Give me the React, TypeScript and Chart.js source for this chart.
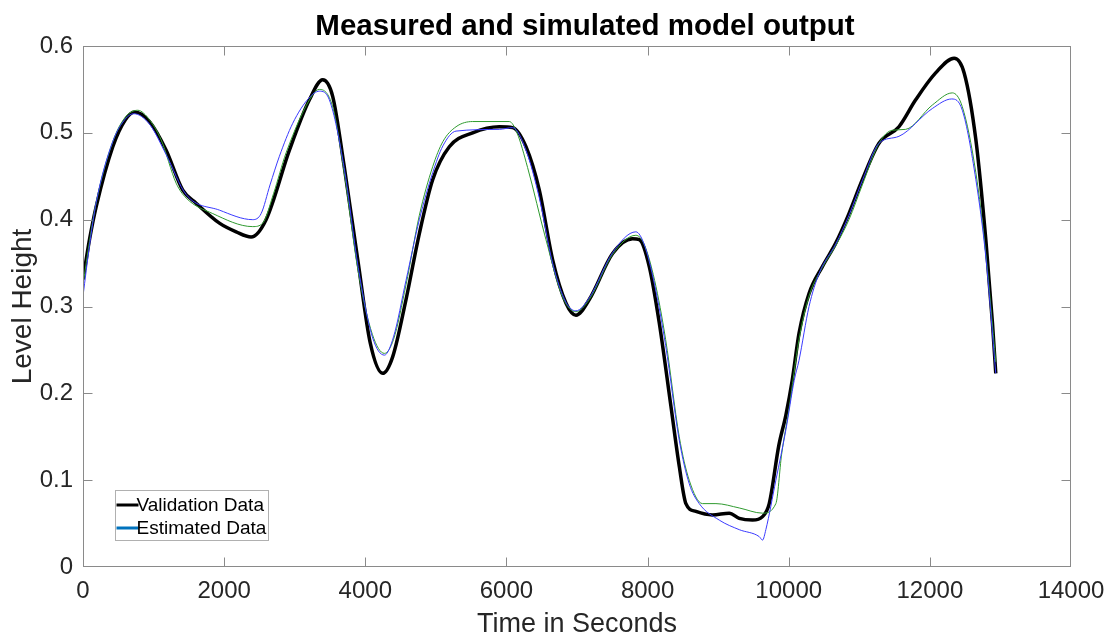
import React, { useEffect, useRef } from "react";
import { Chart, registerables } from "chart.js";

Chart.register(...registerables);

const titleText = "Measured and simulated model output";
const xAxisTitle = "Time in Seconds";
const yAxisTitle = "Level Height";
const legendLabels = ["Validation Data", "Estimated Data"];

const xTicks = [0, 2000, 4000, 6000, 8000, 10000, 12000, 14000];
const xTickLabels = ["0", "2000", "4000", "6000", "8000", "10000", "12000", "14000"];
const yTicks = [0, 0.1, 0.2, 0.3, 0.4, 0.5, 0.6];
const yTickLabels = ["0", "0.1", "0.2", "0.3", "0.4", "0.5", "0.6"];

const validationX = [0, 92, 187, 422, 600, 730, 942, 1178, 1414, 1603, 1933, 2170, 2382, 2594, 2925, 3208, 3397, 3538, 3700, 3900, 4070, 4247, 4388, 4577, 4766, 4955, 5191, 5521, 5899, 6088, 6277, 6466, 6654, 6843, 6985, 7174, 7504, 7787, 7883, 8024, 8166, 8331, 8449, 8543, 8685, 8921, 9157, 9299, 9487, 9629, 9724, 9860, 9960, 10050, 10146, 10288, 10477, 10666, 10854, 11043, 11279, 11562, 11799, 12082, 12344, 12486, 12652, 12793, 12887, 12934];
const validationY = [0.331, 0.377, 0.415, 0.484, 0.515, 0.524, 0.513, 0.48, 0.434, 0.419, 0.396, 0.386, 0.38, 0.4, 0.48, 0.538, 0.561, 0.542, 0.462, 0.35, 0.258, 0.223, 0.242, 0.308, 0.384, 0.446, 0.484, 0.5, 0.507, 0.506, 0.484, 0.434, 0.354, 0.304, 0.29, 0.308, 0.361, 0.378, 0.377, 0.346, 0.281, 0.185, 0.116, 0.073, 0.064, 0.06, 0.062, 0.056, 0.054, 0.058, 0.073, 0.14, 0.175, 0.215, 0.269, 0.315, 0.346, 0.373, 0.407, 0.446, 0.488, 0.507, 0.538, 0.569, 0.586, 0.569, 0.492, 0.377, 0.281, 0.223];

const modelAX = [0, 92, 187, 422, 600, 776, 942, 1107, 1320, 1461, 1839, 2405, 2547, 2700, 2878, 3255, 3350, 3538, 3700, 3900, 4100, 4271, 4400, 4577, 4766, 4955, 5100, 5286, 5521, 6041, 6150, 6300, 6560, 6800, 6985, 7174, 7504, 7834, 7950, 8100, 8256, 8449, 8590, 8779, 8969, 9299, 9629, 9818, 9900, 10000, 10146, 10288, 10477, 10666, 10854, 11043, 11279, 11468, 11657, 12035, 12318, 12460, 12652, 12793, 12934];
const modelAY = [0.325, 0.375, 0.42, 0.49, 0.518, 0.526, 0.515, 0.492, 0.442, 0.425, 0.407, 0.392, 0.396, 0.43, 0.477, 0.544, 0.55, 0.53, 0.455, 0.34, 0.268, 0.246, 0.262, 0.325, 0.405, 0.461, 0.49, 0.507, 0.513, 0.513, 0.5, 0.46, 0.377, 0.31, 0.294, 0.308, 0.36, 0.382, 0.372, 0.33, 0.262, 0.15, 0.1, 0.073, 0.073, 0.068, 0.062, 0.073, 0.13, 0.18, 0.262, 0.312, 0.345, 0.37, 0.4, 0.44, 0.488, 0.503, 0.504, 0.532, 0.546, 0.53, 0.454, 0.361, 0.236];

const modelBX = [0, 92, 187, 422, 600, 720, 942, 1178, 1461, 1933, 2405, 2524, 2650, 2783, 2972, 3200, 3350, 3491, 3700, 3900, 4100, 4271, 4400, 4577, 4766, 4955, 5100, 5286, 5899, 6088, 6277, 6466, 6654, 6843, 6985, 7174, 7504, 7834, 7950, 8100, 8256, 8449, 8590, 8732, 9016, 9299, 9582, 9629, 9676, 9818, 9960, 10078, 10146, 10288, 10430, 10666, 10854, 11043, 11279, 11562, 12035, 12310, 12460, 12652, 12793, 12934];
const modelBY = [0.312, 0.37, 0.42, 0.49, 0.516, 0.522, 0.51, 0.475, 0.429, 0.411, 0.4, 0.407, 0.44, 0.473, 0.511, 0.54, 0.548, 0.538, 0.46, 0.345, 0.265, 0.244, 0.265, 0.33, 0.4, 0.454, 0.485, 0.502, 0.504, 0.506, 0.48, 0.425, 0.35, 0.305, 0.295, 0.31, 0.362, 0.386, 0.372, 0.325, 0.255, 0.146, 0.096, 0.073, 0.054, 0.043, 0.035, 0.031, 0.043, 0.1, 0.158, 0.215, 0.238, 0.3, 0.338, 0.372, 0.405, 0.445, 0.488, 0.496, 0.528, 0.539, 0.526, 0.446, 0.357, 0.223];

const FONT = "'Liberation Sans', Arial, Helvetica, sans-serif";
const TEXT = "#262626";
const BOX = "#8a8a8a";

const toPoints = (xs: number[], ys: number[]) => xs.map((x, i) => ({ x, y: ys[i] }));

const framePlugin = {
  id: "matlabFrame",
  afterDatasetsDraw(chart: any) {
    const { ctx, chartArea: a, scales } = chart;
    const xs = scales.x;
    const ys = scales.y;
    ctx.save();
    ctx.strokeStyle = BOX;
    ctx.lineWidth = 1;
    const L = Math.round(a.left) + 0.5;
    const R = Math.round(a.right) - 0.5;
    const T = Math.round(a.top) + 0.5;
    const B = Math.round(a.bottom) - 0.5;
    ctx.strokeRect(L, T, R - L, B - T);
    ctx.beginPath();
    xTicks.forEach((v) => {
      const px = Math.round(xs.getPixelForValue(v)) + 0.5;
      if (px <= L + 1 || px >= R - 1) return;
      ctx.moveTo(px, B);
      ctx.lineTo(px, B - 9);
      ctx.moveTo(px, T);
      ctx.lineTo(px, T + 9);
    });
    yTicks.forEach((v) => {
      const py = Math.round(ys.getPixelForValue(v)) + 0.5;
      if (py <= T + 1 || py >= B - 1) return;
      ctx.moveTo(L, py);
      ctx.lineTo(L + 9, py);
      ctx.moveTo(R, py);
      ctx.lineTo(R - 9, py);
    });
    ctx.stroke();

    // title centred over the axes
    ctx.fillStyle = "#000000";
    ctx.font = `bold 29.5px ${FONT}`;
    ctx.textAlign = "center";
    ctx.textBaseline = "alphabetic";
    ctx.fillText(titleText, (a.left + a.right) / 2 + 8, 35);

    // legend box
    const lx = 115.5, ly = 490.5, lw = 153, lh = 50;
    ctx.fillStyle = "#ffffff";
    ctx.fillRect(lx, ly, lw, lh);
    ctx.strokeStyle = "#b0b0b0";
    ctx.lineWidth = 1;
    ctx.strokeRect(lx, ly, lw, lh);
    const rows = [
      { label: legendLabels[0], color: "#000000", y: 505 },
      { label: legendLabels[1], color: "#0072BD", y: 528 },
    ];
    ctx.font = `19px ${FONT}`;
    ctx.textBaseline = "middle";
    ctx.textAlign = "left";
    rows.forEach((r) => {
      ctx.strokeStyle = r.color;
      ctx.lineWidth = 3;
      ctx.beginPath();
      ctx.moveTo(lx + 1, r.y);
      ctx.lineTo(lx + 23, r.y);
      ctx.stroke();
      ctx.fillStyle = "#000000";
      ctx.fillText(r.label, lx + 21, r.y + 1);
    });
    ctx.restore();
  },
};

export default function App() {
  const ref = useRef<HTMLCanvasElement | null>(null);
  useEffect(() => {
    if (!ref.current) return;
    const chart = new Chart(ref.current, {
      type: "line",
      data: {
        datasets: [
          {
            label: legendLabels[0],
            data: toPoints(validationX, validationY),
            borderColor: "#000000",
            borderWidth: 3.5,
            pointRadius: 0,
            cubicInterpolationMode: "monotone",
            order: 3,
          },
          {
            label: "Simulated (green)",
            data: toPoints(modelAX, modelAY),
            borderColor: "#2f9a2f",
            borderWidth: 1,
            pointRadius: 0,
            cubicInterpolationMode: "monotone",
            order: 2,
          },
          {
            label: legendLabels[1],
            data: toPoints(modelBX, modelBY),
            borderColor: "#3a3aff",
            borderWidth: 1,
            pointRadius: 0,
            cubicInterpolationMode: "monotone",
            order: 1,
          },
        ],
      },
      plugins: [framePlugin],
      options: {
        animation: false,
        responsive: false,
        maintainAspectRatio: false,
        layout: { padding: { left: 0, right: 45, top: 46, bottom: 0 } },
        plugins: {
          legend: { display: false },
          tooltip: { enabled: false },
          title: { display: false },
        },
        scales: {
          x: {
            type: "linear",
            min: 0,
            max: 14000,
            afterBuildTicks: (s: any) => {
              s.ticks = xTicks.map((v) => ({ value: v }));
            },
            afterFit: (s: any) => {
              s.height = 72;
            },
            grid: { display: false, drawTicks: false },
            border: { display: false },
            ticks: {
              color: TEXT,
              font: { family: FONT, size: 24 },
              padding: 10,
              maxRotation: 0,
              autoSkip: false,
              callback: (v: any) => xTickLabels[xTicks.indexOf(Number(v))] ?? "",
            },
            title: {
              display: true,
              text: xAxisTitle,
              color: TEXT,
              font: { family: FONT, size: 27 },
              padding: { top: 0, bottom: -2 },
            },
          },
          y: {
            type: "linear",
            min: 0,
            max: 0.6,
            afterBuildTicks: (s: any) => {
              s.ticks = yTicks.map((v) => ({ value: v }));
            },
            afterFit: (s: any) => {
              s.width = 83;
            },
            grid: { display: false, drawTicks: false },
            border: { display: false },
            ticks: {
              color: TEXT,
              font: { family: FONT, size: 24 },
              padding: 10,
              autoSkip: false,
              callback: (v: any) => {
                const i = yTicks.findIndex((t) => Math.abs(t - Number(v)) < 1e-9);
                return i >= 0 ? yTickLabels[i] : "";
              },
            },
            title: {
              display: true,
              text: yAxisTitle,
              color: TEXT,
              font: { family: FONT, size: 28 },
              padding: { top: 6, bottom: 0 },
            },
          },
        },
      },
    });
    return () => chart.destroy();
  }, []);

  return (
    <div style={{ position: "fixed", left: 0, top: 0, width: 1116, height: 639, background: "#ffffff" }}>
      <canvas ref={ref} width={1116} height={639} style={{ width: 1116, height: 639, display: "block" }} />
    </div>
  );
}
